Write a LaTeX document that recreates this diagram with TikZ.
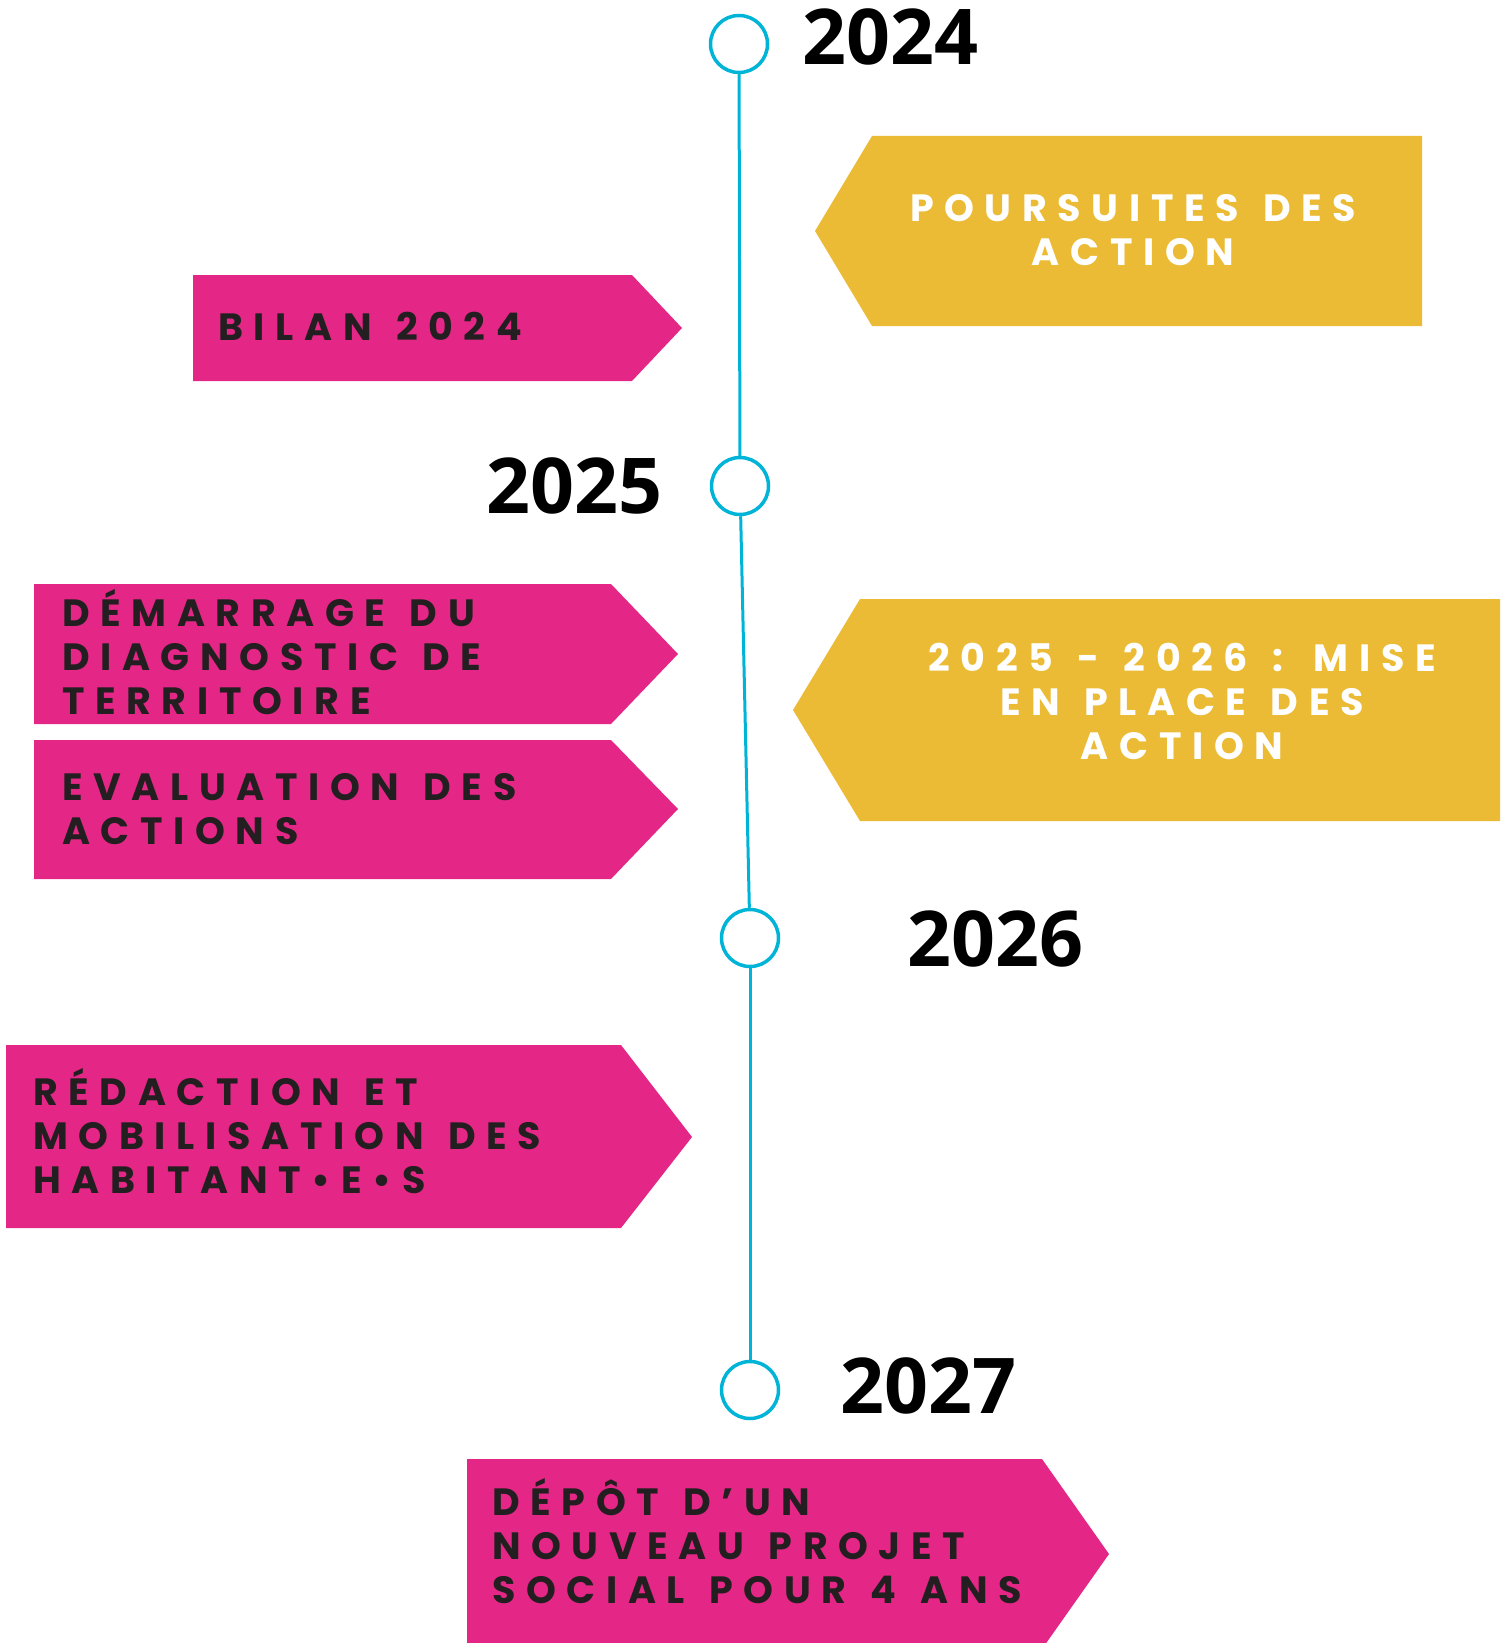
\documentclass[tikz,border=0pt]{standalone}
\usepackage{fontspec}
\newfontfamily\yearfont{Open Sans}
\newfontfamily\boxfont[LetterSpace=28,WordSpace=1.3]{Poppins}
\definecolor{tlblue}{HTML}{00B4D8}
\definecolor{boxpink}{HTML}{E42787}
\definecolor{boxyellow}{HTML}{ECBB36}
\definecolor{boxink}{HTML}{231F20}
\tikzset{
    yeardot/.style={circle,draw=tlblue,line width=3.5pt,minimum size=57pt,inner sep=0pt,fill=white},
    yearlabel/.style={anchor=base,inner sep=0pt,font=\yearfont\bfseries\fontsize{77}{77}\selectfont},
    timeline/.style={draw=tlblue,line width=3pt},
    pinkbox/.style={fill=boxpink},
    yellowbox/.style={fill=boxyellow},
    % base of a multi-line node = baseline of its last line
    pinktext/.style={anchor=base west,inner sep=0pt,align=left,text=boxink,font=\boxfont\bfseries\fontsize{38}{44}\selectfont},
    yellowtext/.style={anchor=base,inner sep=0pt,align=center,text=white,font=\boxfont\bfseries\fontsize{38}{44}\selectfont}
}
\begin{document}
\begin{tikzpicture}[x=1pt,y=-1pt]
        \clip (0,0) rectangle (1507,1643);
        % Timeline
        \node[yeardot] (c24) at (739,44) {};
        \node[yeardot] (c25) at (740,486) {};
        \node[yeardot] (c26) at (750,938) {};
        \node[yeardot] (c27) at (750,1390) {};
        \draw[timeline] (c24) -- (c25);
        \draw[timeline] (c25) -- (c26);
        \draw[timeline] (c26) -- (c27);
        \node[yearlabel] (y24) at (890,65) {2024};
        \node[yearlabel] (y25) at (574,513) {2025};
        \node[yearlabel] (y26) at (995,966) {2026};
        \node[yearlabel] (y27) at (928,1413) {2027};

        % Yellow boxes (pointing left)
        \fill[yellowbox] (815,231) -- (872,136) --++ (550,0) --++ (0,190) --++ (-550,0) --cycle;
        \node[yellowtext] (poursuite) at (1133,265) {POURSUITES DES\\ACTION};
        \fill[yellowbox] (793,710) -- (860,599) --++ (640,0) --++ (0,222) --++ (-640,0) --cycle;
        \node[yellowtext] (miseplace) at (1182,759) {2025 - 2026 : MISE\\EN PLACE DES\\ACTION};

        % Pink boxes (pointing right)
        \fill[pinkbox] (193,275) --++ (439,0) --++ (50,53) --++ (-50,53) --++ (-439,0) --cycle;
        \node[pinktext] (bilan) at (218,340) {BILAN 2024};
        \fill[pinkbox] (34,584) --++ (577,0) --++ (67,70) --++ (-67,70) --++ (-577,0) --cycle;
        \node[pinktext] (diagnostic) at (62,714) {DÉMARRAGE DU\\DIAGNOSTIC DE\\TERRITOIRE};
        \fill[pinkbox] (34,740) --++ (577,0) --++ (67,69) --++ (-67,70) --++ (-577,0) --cycle;
        \node[pinktext] (evaluation) at (62,844) {EVALUATION DES\\ACTIONS};
        \fill[pinkbox] (6,1045) --++ (615,0) --++ (71,92) --++ (-71,91) --++ (-615,0) --cycle;
        \node[pinktext] (redaction) at (33,1193) {RÉDACTION ET\\MOBILISATION DES\\HABITANT•E•S};
        \fill[pinkbox] (467,1459) --++ (575,0) --++ (67,95) --++ (-67,95) --++ (-575,0) --cycle;
        \node[pinktext] (depot) at (492,1603) {DÉPÔT D’UN\\NOUVEAU PROJET\\SOCIAL POUR 4 ANS};
\end{tikzpicture}
\end{document}
